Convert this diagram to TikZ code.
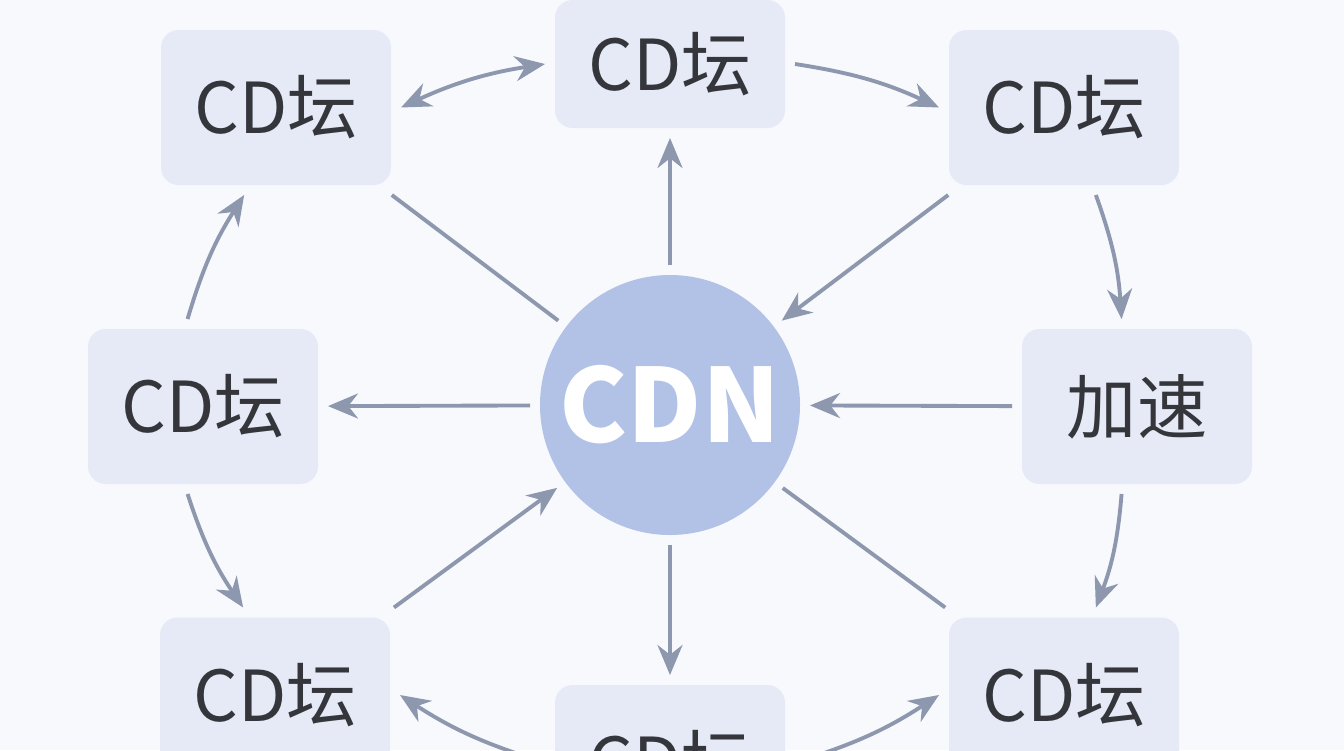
\documentclass[tikz,border=0pt]{standalone}
\usepackage{fontspec}
\setmainfont{Noto Sans CJK SC}
\usetikzlibrary{arrows.meta}
\definecolor{boxfill}{RGB}{229,234,246}
\definecolor{hubfill}{RGB}{178,194,230}
\definecolor{linkcol}{RGB}{141,151,173}
\definecolor{txtcol}{RGB}{52,54,60}
\definecolor{bgcol}{RGB}{248,249,252}
\tikzset{
  site/.style={rounded corners=0.35cm, fill=boxfill, minimum width=4.6cm, minimum height=3.1cm,
    text=txtcol, font=\fontsize{40}{46}\selectfont, outer sep=0.2cm},
  hub/.style={circle, fill=hubfill, minimum size=5.2cm, text=white,
    font=\fontsize{58}{64}\selectfont\bfseries, outer sep=0.2cm},
  link/.style={draw=linkcol, line width=2.2pt, -{Stealth[length=0.6cm,width=0.5cm]}},
  plain/.style={draw=linkcol, line width=2.2pt}
}
\begin{document}
\begin{tikzpicture}
  \clip (0,0) rectangle (26.88,-15);
  \fill[bgcol] (0,0) rectangle (26.88,-15);
  \node[hub, inner sep=0pt] (cdn) at (13.4,-8.1) {CDN};
  \node[site, minimum height=2.56cm] (top) at (13.4,-1.28) {CD坛};
  \node[site] (topleft) at (5.52,-2.15) {CD坛};
  \node[site] (topright) at (21.28,-2.15) {CD坛};
  \node[site] (left) at (4.06,-8.13) {CD坛};
  \node[site] (right) at (22.74,-8.13) {加速};
  \node[site] (botleft) at (5.5,-13.9) {CD坛};
  \node[site] (bot) at (13.4,-15.25) {CD坛};
  \node[site] (botright) at (21.28,-13.9) {CD坛};

  \draw[link] (cdn) -- (top);
  \draw[link] (topright) -- (cdn);
  \draw[link] (right) -- (cdn);
  \draw[link] (cdn) -- (left);
  \draw[link] (botleft) -- (cdn);
  \draw[link] (cdn) -- (bot);
  \draw[plain] (topleft) -- (cdn);
  \draw[plain] (botright) -- (cdn);

  \draw[link, {Stealth[length=0.6cm,width=0.5cm]}-{Stealth[length=0.6cm,width=0.5cm]}] (topleft.east) to[bend left=8] (top.west);
  \draw[link] (top.east) to[bend left=8] (topright.west);
  \draw[link] (topright.290) to[bend left=8] (right.100);
  \draw[link] (right.260) to[bend left=8] (botright.70);
  \draw[link] (bot.east) to[bend right=8] (botright.west);
  \draw[link] (bot.west) to[bend left=8] (botleft.east);
  \draw[link] (left.100) to[bend left=8] (topleft.250);
  \draw[link] (left.260) to[bend right=8] (botleft.110);
\end{tikzpicture}
\end{document}
